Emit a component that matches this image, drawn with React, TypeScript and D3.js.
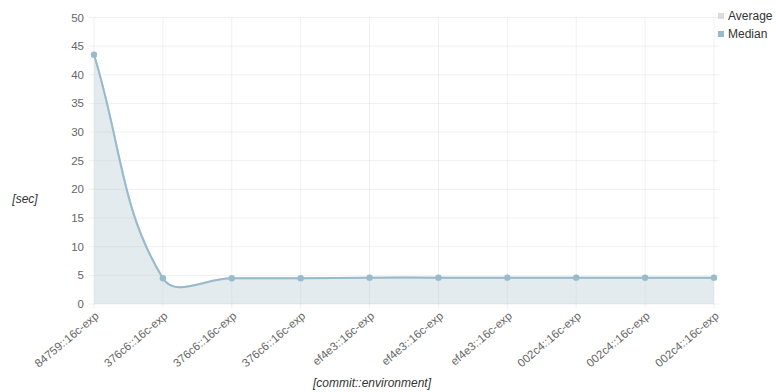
import React from "react";
import * as d3 from "d3";

const categories = [
  "84759::16c-exp",
  "376c6::16c-exp",
  "376c6::16c-exp",
  "376c6::16c-exp",
  "ef4e3::16c-exp",
  "ef4e3::16c-exp",
  "ef4e3::16c-exp",
  "002c4::16c-exp",
  "002c4::16c-exp",
  "002c4::16c-exp",
];
const averageValues = [43.5, 4.5, 4.5, 4.5, 4.6, 4.6, 4.6, 4.6, 4.6, 4.6];
const medianValues = [43.5, 4.5, 4.5, 4.5, 4.6, 4.6, 4.6, 4.6, 4.6, 4.6];
const yTicks = [0, 5, 10, 15, 20, 25, 30, 35, 40, 45, 50];
const seriesNames = ["Average", "Median"];

const W = 776;
const H = 392;
const left = 94;
const right = 714;
const top = 17.5;
const bottom = 304;
const FONT = "'Helvetica Neue', Helvetica, Arial, 'Liberation Sans', sans-serif";

type P = { x: number; y: number };

function splinePath(pts: P[], tension: number, closeY?: number): string {
  const ctrl = pts.map((cur, i) => {
    const prev = i === 0 ? cur : pts[i - 1];
    const next = i === pts.length - 1 ? cur : pts[i + 1];
    const d01 = Math.hypot(cur.x - prev.x, cur.y - prev.y);
    const d12 = Math.hypot(next.x - cur.x, next.y - cur.y);
    const sum = d01 + d12 || 1;
    const fa = (tension * d01) / sum;
    const fb = (tension * d12) / sum;
    return {
      inner: { x: cur.x - fa * (next.x - prev.x), y: cur.y - fa * (next.y - prev.y) },
      outer: { x: cur.x + fb * (next.x - prev.x), y: cur.y + fb * (next.y - prev.y) },
    };
  });
  const p = d3.path();
  p.moveTo(pts[0].x, pts[0].y);
  for (let i = 1; i < pts.length; i++) {
    const a = ctrl[i - 1].outer;
    const b = ctrl[i].inner;
    p.bezierCurveTo(a.x, a.y, b.x, b.y, pts[i].x, pts[i].y);
  }
  if (closeY !== undefined) {
    p.lineTo(pts[pts.length - 1].x, closeY);
    p.lineTo(pts[0].x, closeY);
    p.closePath();
  }
  return p.toString();
}

export default function App() {
  const x = d3.scalePoint<number>().domain(d3.range(categories.length)).range([left, right]);
  const y = d3.scaleLinear().domain([0, 50]).range([bottom, top]);

  const avgPts = averageValues.map((v, i) => ({ x: x(i)!, y: y(v) }));
  const medPts = medianValues.map((v, i) => ({ x: x(i)!, y: y(v) }));

  const grid = "rgba(0,0,0,0.06)";

  return (
    <svg width={W} height={H} style={{ position: "absolute", left: 0, top: 0 }} fontFamily={FONT}>
      <rect width={W} height={H} fill="#fff" />
      {/* horizontal grid */}
      {yTicks.map((t) => (
        <g key={"y" + t}>
          <line x1={left - 5} x2={right + 5} y1={y(t)} y2={y(t)} stroke={grid} strokeWidth={1} />
          <text x={84} y={y(t)} dy="0.35em" textAnchor="end" fontSize={11.5} fill="#666">
            {t}
          </text>
        </g>
      ))}
      {/* vertical grid */}
      {categories.map((c, i) => (
        <line key={"x" + i} x1={x(i)} x2={x(i)} y1={top} y2={bottom + 5} stroke={grid} strokeWidth={1} />
      ))}
      {/* x tick labels */}
      {categories.map((c, i) => (
        <text
          key={"l" + i}
          transform={`translate(${x(i)! + 3},${bottom + 10}) rotate(-40)`}
          textAnchor="end"
          dy="0.35em"
          fontSize={11.5}
          fill="#666"
        >
          {c}
        </text>
      ))}
      {/* Average series */}
      <path d={splinePath(avgPts, 0.4, bottom)} fill="rgba(220,220,220,0.2)" />
      <path d={splinePath(avgPts, 0.4)} fill="none" stroke="rgba(220,220,220,1)" strokeWidth={2} />
      {/* Median series */}
      <path d={splinePath(medPts, 0.4, bottom)} fill="rgba(151,187,205,0.2)" />
      <path d={splinePath(medPts, 0.4)} fill="none" stroke="rgba(151,187,205,1)" strokeWidth={2} />
      {medPts.map((p, i) => (
        <circle key={"m" + i} cx={p.x} cy={p.y} r={3.2} fill="rgba(151,187,205,1)" />
      ))}
      {/* axis titles */}
      <text x={25} y={203} textAnchor="middle" fontSize={12} fontStyle="italic" fill="#333">
        [sec]
      </text>
      <text x={372} y={383} dy="0.35em" textAnchor="middle" fontSize={12} fontStyle="italic" fill="#333">
        [commit::environment]
      </text>
      {/* legend */}
      {seriesNames.map((n, i) => (
        <g key={n} transform={`translate(718,${16 + i * 18})`}>
          <rect x={0} y={-3} width={6} height={6} fill={i === 0 ? "rgba(220,220,220,1)" : "rgba(151,187,205,1)"} />
          <text x={10} y={0} dy="0.35em" fontSize={12} fill="#333">
            {n}
          </text>
        </g>
      ))}
    </svg>
  );
}
